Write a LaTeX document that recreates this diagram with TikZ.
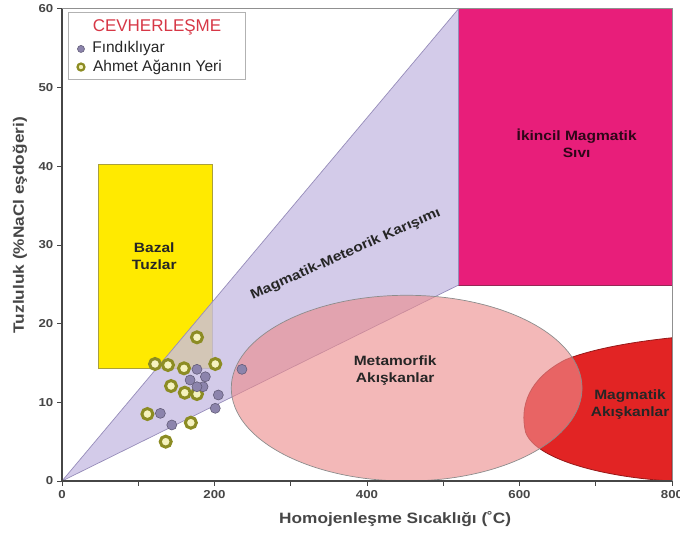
\documentclass[tikz,border=0pt]{standalone}
\usepackage{fontspec}
\setmainfont{Liberation Sans}
\newfontfamily\lblfont[FakeStretch=1.15]{Liberation Sans}
\usepackage{tikz}
\usetikzlibrary{positioning}
\definecolor{lavfill}{RGB}{200,190,228}
\definecolor{lavline}{RGB}{150,140,185}
\definecolor{bazyellow}{RGB}{255,234,0}
\definecolor{bazline}{RGB}{170,160,60}
\definecolor{ikmag}{RGB}{232,30,122}
\definecolor{ikline}{RGB}{150,40,85}
\definecolor{metpink}{RGB}{236,140,140}
\definecolor{magred}{RGB}{226,36,36}
\definecolor{magline}{RGB}{150,25,25}
\definecolor{fndcol}{RGB}{140,132,172}
\definecolor{ahmcol}{RGB}{140,140,35}
\definecolor{ahmin}{RGB}{245,242,190}
\definecolor{axcol}{RGB}{70,70,70}
\definecolor{legred}{RGB}{215,55,70}

\begin{document}
\begin{tikzpicture}[x=0.7625pt,y=7.87pt,
  font=\lblfont\bfseries\fontsize{13.5}{17}\selectfont,
  fnd/.style={circle,fill=fndcol,draw=fndcol!70!black,line width=0.6pt,inner sep=0pt,minimum size=10pt},
  ahm/.style={circle,fill=ahmin,draw=ahmcol,line width=3pt,inner sep=0pt,minimum size=11pt},
  region/.style={align=center,text=black!85},
  ticklbl/.style={text=axcol,font=\lblfont\bfseries\fontsize{11.5}{13}\selectfont},
  axtitle/.style={text=axcol,font=\lblfont\bfseries\fontsize{15}{17}\selectfont}]
  \useasboundingbox (-81.31,-6.99) rectangle (810.49,61.12);

  % bazal tuzlar
  \fill[bazyellow,draw=bazline,line width=0.8pt] (48,14.3) rectangle (197,40.2);

  % ikincil magmatik
  \fill[ikmag,draw=ikline,line width=0.8pt] (520,24.9) rectangle (800,60);

  % magmatik akiskanlar
  \begin{scope}
    \clip (0,0) rectangle (800,60);
    \fill[magred,draw=magline,line width=0.8pt] (800,18.2) .. controls (740,17.6) and (690,16.6) .. (660,15.4)
      .. controls (612,13) and (600,9.5) .. (608,6.2) .. controls (622,2.5) and (720,0.4) .. (800,0) -- cycle;
  \end{scope}

  % mixing wedge
  \fill[lavfill,fill opacity=0.8,draw=lavline,line width=0.7pt] (0,0) -- (520,60) -- (520,24.9) -- cycle;

  % metamorfik
  \fill[metpink,fill opacity=0.62,draw=black!45,line width=0.7pt] (452,11.8) ellipse [x radius=230, y radius=11.8];

  % labels
  \node[region] (baz) at (121,28.6) {Bazal\\Tuzlar};
  \node[region,rotate=24] (mmk) at (372,28.8) {Magmatik-Meteorik Karışımı};
  \node[region,text=black!80!ikmag] (ikn) at (675,42.9) {İkincil Magmatik\\Sıvı};
  \node[region] (met) at (437,14) {Metamorfik\\Akışkanlar};
  \node[region] (mag) at (745,9.7) {Magmatik\\Akışkanlar};

  % Ahmet Aganin Yeri
  \foreach \x/\y [count=\i] in {177/18.26,122/14.87,139/14.74,160/14.32,201/14.87,143/12.07,161/11.22,177/11.05,112/8.51,169/7.41,136/5.0}
    \node[ahm] (ahm\i) at (\x,\y) {};

  % Findikliyar
  \foreach \x/\y [count=\i] in {177/14.19,188/13.25,168/12.83,185/11.98,205/10.93,201/9.24,129/8.6,144/7.12,236/14.19,177/11.98}
    \node[fnd] (fnd\i) at (\x,\y) {};

  % frame and axes
  \draw[axcol!60,line width=0.8pt] (0,60) -- (800,60) -- (800,0);
  \draw[axcol,line width=1.3pt] (0,60) -- (0,0) -- (800,0);

  % ticks
  \foreach \x in {100,300,500,700} \draw[axcol,line width=0.8pt] (\x,0) -- (\x,-0.64);
  \foreach \x in {0,200,400,600,800} \draw[axcol,line width=0.8pt] (\x,0) -- (\x,-0.64) node[below=1pt,ticklbl] {\x};
  \foreach \y in {0,10,...,60} \draw[axcol,line width=0.8pt] (0,\y) -- (-6.6,\y) node[left=0pt,ticklbl] {\y};

  % axis titles
  \node[axtitle] (xlab) at (437,-4.83) {Homojenleşme Sıcaklığı (˚C)};
  \node[axtitle,rotate=90] (ylab) at (-55.1,32.5) {Tuzluluk (\%NaCl eşdoğeri)};

  % legend
  \fill[white,draw=black!30,line width=0.8pt] (8,59.6) rectangle (240,51.0);
  \node[font=\fontsize{17}{19}\selectfont,text=legred] (legt) at (124.6,57.7) {CEVHERLEŞME};
  \node[fnd,minimum size=7pt] (legf) at (24.9,54.9) {};
  \node[right=4pt of legf,font=\fontsize{15.5}{17}\selectfont,text=black!85] (legfl) {Fındıklıyar};
  \node[ahm,minimum size=7pt,line width=2.2pt] (lega) at (24.9,52.6) {};
  \node[right=4pt of lega,font=\fontsize{15.5}{17}\selectfont,text=black!85] (legal) {Ahmet Ağanın Yeri};
\end{tikzpicture}
\end{document}
